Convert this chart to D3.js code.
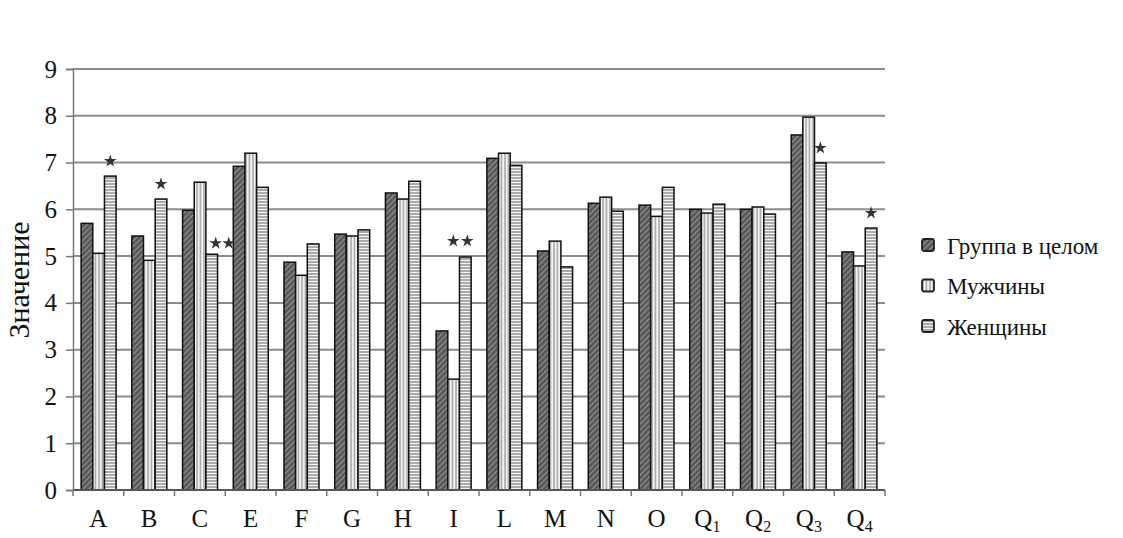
<!DOCTYPE html>
<html><head><meta charset="utf-8">
<script src="https://cdn.jsdelivr.net/npm/d3@7"></script>
<style>body{margin:0;background:#fff}svg{display:block}</style>
</head><body>
<svg id="c" width="1123" height="538"></svg>
<script>
const categories = ["A","B","C","E","F","G","H","I","L","M","N","O","Q1","Q2","Q3","Q4"];
const seriesNames = ["Группа в целом","Мужчины","Женщины"];
const groupValues = [5.70,5.43,5.98,6.92,4.87,5.47,6.35,3.40,7.09,5.11,6.13,6.09,6.00,6.00,7.59,5.09];
const maleValues  = [5.06,4.91,6.58,7.20,4.59,5.43,6.22,2.37,7.20,5.32,6.26,5.85,5.92,6.05,7.97,4.79];
const femaleValues= [6.71,6.22,5.04,6.47,5.26,5.56,6.60,4.98,6.94,4.77,5.96,6.47,6.11,5.90,6.99,5.60];
const yTicks = [0,1,2,3,4,5,6,7,8,9];
// significance marks: [category, series index, number of stars]
const marks = [["A",2,1],["B",2,1],["C",2,2],["I",2,2],["Q3",2,1],["Q4",2,1]];

(function(){
const svg = d3.select("#c");
const FONT = "'Liberation Serif','DejaVu Serif',serif";
const mLeft = 73, mRight = 885, mTop = 69, mBottom = 490;
const x = d3.scaleBand().domain(categories).range([mLeft, mRight]).paddingInner(0.31).paddingOuter(0.16);
const xs = d3.scaleBand().domain([0,1,2]).range([0, x.bandwidth()]);
const y = d3.scaleLinear().domain([0,9]).range([mBottom, mTop]);
const xb = d3.scaleBand().domain(categories).range([mLeft, mRight]);

const defs = svg.append("defs");
const p1 = defs.append("pattern").attr("id","p1").attr("patternUnits","userSpaceOnUse").attr("width",4).attr("height",4).attr("patternTransform","rotate(45)");
p1.append("rect").attr("width",4).attr("height",4).attr("fill","#5a5a5a");
p1.append("line").attr("x1",0).attr("y1",0).attr("x2",0).attr("y2",4).attr("stroke","#a8a8a8").attr("stroke-width",1.5);
const p2 = defs.append("pattern").attr("id","p2").attr("patternUnits","userSpaceOnUse").attr("width",3.5).attr("height",4);
p2.append("rect").attr("width",3.5).attr("height",4).attr("fill","#f2f2f2");
p2.append("line").attr("x1",1).attr("y1",0).attr("x2",1).attr("y2",4).attr("stroke","#9a9a9a").attr("stroke-width",1.3);
const p3 = defs.append("pattern").attr("id","p3").attr("patternUnits","userSpaceOnUse").attr("width",4).attr("height",3);
p3.append("rect").attr("width",4).attr("height",3).attr("fill","#f4f4f4");
p3.append("line").attr("x1",0).attr("y1",1).attr("x2",4).attr("y2",1).attr("stroke","#7a7a7a").attr("stroke-width",1.2);
const fills = ["url(#p1)","url(#p2)","url(#p3)"];

svg.append("g").selectAll("line").data(yTicks.filter(d=>d>0)).join("line")
  .attr("x1",mLeft).attr("x2",mRight).attr("y1",d=>y(d)).attr("y2",d=>y(d))
  .attr("stroke","#8c8c8c").attr("stroke-width",2);

const series = [groupValues, maleValues, femaleValues];
const rows = [];
categories.forEach((c,i)=>series.forEach((s,j)=>rows.push({c,j,v:s[i]})));
svg.append("g").selectAll("rect").data(rows).join("rect")
  .attr("x",d=>x(d.c)+xs(d.j)).attr("width",xs.bandwidth())
  .attr("y",d=>y(d.v)).attr("height",d=>y(0)-y(d.v))
  .attr("fill",d=>fills[d.j]).attr("stroke","#111").attr("stroke-width",1.5);

const yAxis = svg.append("g").attr("transform",`translate(${mLeft},0)`)
  .call(d3.axisLeft(y).tickValues(yTicks).tickSize(7).tickPadding(9).tickFormat(d3.format("d")));
yAxis.attr("font-family",null).attr("font-size",null);
yAxis.select(".domain").attr("stroke","#777").attr("stroke-width",1.5);
yAxis.selectAll(".tick line").attr("stroke","#777").attr("stroke-width",1.5);
yAxis.selectAll("text").style("font-family",FONT).style("font-size","25px").attr("fill","#111");

svg.append("line").attr("x1",mLeft).attr("x2",mRight).attr("y1",mBottom).attr("y2",mBottom).attr("stroke","#555").attr("stroke-width",2);
svg.append("g").selectAll("line").data(d3.range(categories.length+1)).join("line")
  .attr("x1",i=>mLeft+i*xb.bandwidth()).attr("x2",i=>mLeft+i*xb.bandwidth())
  .attr("y1",mBottom).attr("y2",mBottom+6).attr("stroke","#777").attr("stroke-width",1.5);
const xl = svg.append("g").selectAll("text").data(categories).join("text")
  .attr("x",d=>xb(d)+xb.bandwidth()/2).attr("y",mBottom+37)
  .attr("text-anchor","middle").style("font-family",FONT).style("font-size","25px").attr("fill","#111");
xl.each(function(d){
  const t = d3.select(this);
  if (d.length>1){ t.append("tspan").text(d[0]); t.append("tspan").style("font-size","16px").attr("dy",5).text(d.slice(1)); }
  else t.text(d);
});

const starOffsets = {1:{def:[[0,-15]]}, 2:{C:[[4,-11],[17,-11]], I:[[-12,-16],[2,-16]]}};
const starPts = [];
marks.forEach(([c,j,n])=>{
  const cx = x(c)+xs(j)+xs.bandwidth()/2;
  const cy = y(series[j][categories.indexOf(c)]);
  const offs = n===1 ? starOffsets[1].def : starOffsets[2][c];
  offs.forEach(o=>starPts.push([cx+o[0], cy+o[1]]));
});
const star = d3.symbol().type(d3.symbolStar).size(50);
svg.append("g").selectAll("path").data(starPts).join("path")
  .attr("transform",d=>`translate(${d[0]},${d[1]})`).attr("d",star).attr("fill","#333");

svg.append("text").attr("transform","translate(18,280) rotate(-90)")
  .attr("text-anchor","middle").attr("dominant-baseline","central")
  .style("font-family",FONT).style("font-size","30px").attr("fill","#111").text("Значение");

const lg = svg.append("g").selectAll("g").data(seriesNames).join("g")
  .attr("transform",(d,i)=>`translate(922,${245+i*40.5})`);
lg.append("rect").attr("x",0).attr("y",-6).attr("width",12).attr("height",12).attr("rx",2)
  .attr("fill",(d,i)=>fills[i]).attr("stroke","#222").attr("stroke-width",1.8);
lg.append("text").attr("x",25).attr("y",1).attr("dominant-baseline","central")
  .style("font-family",FONT).style("font-size","23px").attr("fill","#111").text(d=>d);
})();
</script>
</body></html>
